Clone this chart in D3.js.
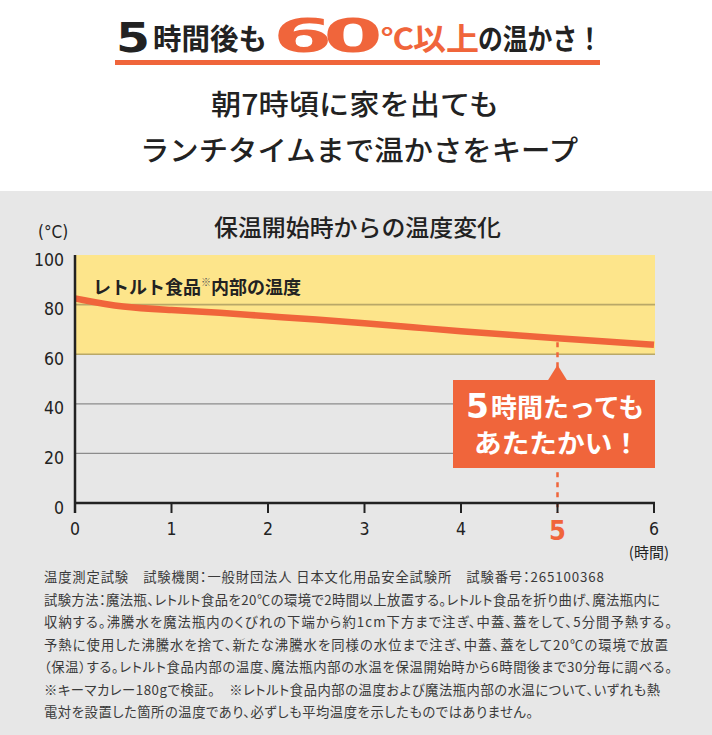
<!DOCTYPE html>
<html><head><meta charset="utf-8">
<script src="https://cdn.jsdelivr.net/npm/d3@7/dist/d3.min.js"></script>
<style>
html,body{margin:0;padding:0;background:#fff;}
svg{display:block;}
text{font-family:"Noto Sans CJK JP","Noto Sans",sans-serif;}
</style></head>
<body>
<script>
// ---- data ----
const hours = [0, 0.5, 1, 1.5, 2, 2.5, 3, 3.5, 4, 4.5, 5, 5.5, 6];
const temps = [82.5, 78.7, 77.9, 76.7, 75.3, 74.0, 72.5, 70.9, 69.2, 67.8, 66.4, 65.1, 63.8];
const xTicks = [0, 1, 2, 3, 4, 5, 6];
const yTicks = [0, 20, 40, 60, 80, 100];
const highlightHour = 5;
const bandRange = [60, 100];
const titleParts = [
  {t: "5", x: 116, w: 34, size: 41, c: "dark", digit: true},
  {t: "時間後も", x: 153, w: 114, size: 29, c: "dark"},
  {t: "60", x: 273, w: 106, size: 46, c: "orange", digit: true, ls: -5},
  {t: "℃", x: 381, w: 33, size: 29, c: "orange"},
  {t: "以上", x: 413, w: 66, size: 31, c: "orange"},
  {t: "の温かさ！", x: 478, w: 124, size: 29, c: "dark"}
];
const subtitle = ["朝7時頃に家を出ても", "ランチタイムまで温かさをキープ"];
const chartTitle = "保温開始時からの温度変化";
const seriesLabel = ["レトルト食品", "※", "内部の温度"];
const callout = ["5", "時間たっても", "あたたかい！"];
const footnotes = [
  "温度測定試験　試験機関：一般財団法人 日本文化用品安全試験所　試験番号：265100368",
  "試験方法：魔法瓶、レトルト食品を20℃の環境で2時間以上放置する。レトルト食品を折り曲げ、魔法瓶内に",
  "収納する。沸騰水を魔法瓶内のくびれの下端から約1cm下方まで注ぎ、中蓋、蓋をして、5分間予熱する。",
  "予熱に使用した沸騰水を捨て、新たな沸騰水を同様の水位まで注ぎ、中蓋、蓋をして20℃の環境で放置",
  "（保温）する。レトルト食品内部の温度、魔法瓶内部の水温を保温開始時から6時間後まで30分毎に調べる。",
  "※キーマカレー180gで検証。　※レトルト食品内部の温度および魔法瓶内部の水温について、いずれも熱",
  "電対を設置した箇所の温度であり、必ずしも平均温度を示したものではありません。"
];
const footEnds = [604, 660, 672, 668, 672, 660, 533];

// ---- style ----
const W = 712, H = 735;
const ORANGE = "#f0653b", DARK = "#222", YELLOW = "#fde58b", GRAY = "#e7e7e7";
const NUM = '"Liberation Sans Narrow","DejaVu Sans Condensed",sans-serif';

const svg = d3.select("body").append("svg").attr("width", W).attr("height", H);
svg.append("rect").attr("width", W).attr("height", 191).attr("fill", "#fff");
svg.append("rect").attr("y", 191).attr("width", W).attr("height", H - 191).attr("fill", GRAY);

// fit a text's box horizontally into [left, left+w]
function fitX(t, left, w) {
  t.attr("x", 0);
  const b = t.node().getBBox();
  const s = w / b.width;
  t.attr("transform", `translate(${left - b.x * s},0) scale(${s},1)`);
}

// title
titleParts.forEach(p => {
  const t = svg.append("text").attr("x", p.x).attr("y", p.digit ? 52 : 49.5)
    .attr("font-size", p.size).attr("font-weight", 700)
    .attr("fill", p.c === "orange" ? ORANGE : DARK)
    .style("font-family", p.digit ? '"DejaVu Sans",sans-serif' : null)
    .style("letter-spacing", p.ls ? p.ls + "px" : null)
    .text(p.t);
  if (p.digit) fitX(t, p.x, p.w);
  else t.attr("textLength", p.w).attr("lengthAdjust", "spacingAndGlyphs");
});
svg.append("rect").attr("x", 115).attr("y", 60).attr("width", 485).attr("height", 5).attr("fill", ORANGE);

// subtitle
svg.append("text").attr("x", 355).attr("y", 115).attr("text-anchor", "middle")
  .attr("font-size", 28).attr("font-weight", 500).attr("fill", DARK)
  .attr("textLength", 288).attr("lengthAdjust", "spacingAndGlyphs").text(subtitle[0]);
svg.append("text").attr("x", 359).attr("y", 161).attr("text-anchor", "middle")
  .attr("font-size", 28).attr("font-weight", 500).attr("fill", DARK)
  .attr("textLength", 438).attr("lengthAdjust", "spacingAndGlyphs").text(subtitle[1]);

// chart title
svg.append("text").attr("x", 357.5).attr("y", 236).attr("text-anchor", "middle")
  .attr("font-size", 23).attr("font-weight", 500).attr("fill", DARK)
  .attr("textLength", 287).attr("lengthAdjust", "spacingAndGlyphs").text(chartTitle);

// scales
const x = d3.scaleLinear().domain([0, 6]).range([75, 654]);
const y = d3.scaleLinear().domain([0, 100]).range([503, 255]);
const gridRight = 655;

// unit label
svg.append("text").attr("x", 38).attr("y", 238).attr("font-size", 17)
  .attr("fill", DARK).style("font-family", NUM).text("(°C)");

// band
svg.append("rect").attr("x", x(0)).attr("y", y(bandRange[1]))
  .attr("width", gridRight - x(0)).attr("height", y(bandRange[0]) - y(bandRange[1]))
  .attr("fill", YELLOW);

// grid
yTicks.filter(v => v > 0 && v < 100).forEach(v => {
  svg.append("line").attr("x1", x(0)).attr("x2", gridRight)
    .attr("y1", y(v)).attr("y2", y(v))
    .attr("stroke", v >= bandRange[0] ? "#b9a868" : "#8c8c8c")
    .attr("stroke-width", v >= bandRange[0] ? 1.6 : 1.2);
});

// y labels
yTicks.forEach(v => {
  svg.append("text").attr("x", 64).attr("y", y(v) + 10.5).attr("text-anchor", "end")
    .attr("font-size", 17.5).attr("fill", DARK).style("font-family", NUM).text(v);
});

// series label
const sl = svg.append("text").attr("x", 93).attr("y", 294).attr("font-weight", 700).attr("fill", DARK);
sl.append("tspan").attr("font-size", 18).text(seriesLabel[0]);
sl.append("tspan").attr("font-size", 10).attr("dy", -8).attr("fill", "#555").text(seriesLabel[1]);
sl.append("tspan").attr("font-size", 18).attr("dy", 8).text(seriesLabel[2]);

// dashed marker
const t5 = temps[hours.indexOf(highlightHour)];
svg.append("line").attr("x1", x(highlightHour)).attr("x2", x(highlightHour))
  .attr("y1", y(t5) + 4).attr("y2", 513)
  .attr("stroke", ORANGE).attr("stroke-width", 2.5).attr("stroke-dasharray", "5,5");

// series line
const line = d3.line().x((d, i) => x(hours[i])).y(d => y(d)).curve(d3.curveBasis);
svg.append("path").datum(temps).attr("d", line)
  .attr("fill", "none").attr("stroke", ORANGE).attr("stroke-width", 6.5);

// axes
svg.append("line").attr("x1", x(0)).attr("x2", x(0)).attr("y1", y(100)).attr("y2", 513)
  .attr("stroke", DARK).attr("stroke-width", 2.5);
svg.append("line").attr("x1", x(0)).attr("x2", x(6) + 1).attr("y1", y(0)).attr("y2", y(0))
  .attr("stroke", DARK).attr("stroke-width", 2.5);
xTicks.forEach(v => {
  if (v > 0) svg.append("line").attr("x1", x(v)).attr("x2", x(v)).attr("y1", y(0)).attr("y2", 513)
    .attr("stroke", DARK).attr("stroke-width", 2);
  const hl = v === highlightHour;
  svg.append("text").attr("x", x(v)).attr("y", hl ? 540 : 535).attr("text-anchor", "middle")
    .attr("font-size", hl ? 27 : 17.5).attr("font-weight", hl ? 700 : 400)
    .attr("fill", hl ? ORANGE : DARK).style("font-family", NUM).text(v);
});
svg.append("text").attr("x", 669).attr("y", 558).attr("text-anchor", "end")
  .attr("font-size", 15).attr("fill", DARK).text("(時間)");

// callout
const cx = x(highlightHour);
svg.append("rect").attr("x", 453).attr("y", 380).attr("width", 202).attr("height", 88).attr("fill", ORANGE);
svg.append("path").attr("d", `M${cx - 10},381 L${cx},365 L${cx + 10},381 Z`).attr("fill", ORANGE);
const c1 = svg.append("text").attr("x", 466).attr("y", 418).attr("font-weight", 700).attr("fill", "#fff");
c1.append("tspan").attr("font-size", 33).style("font-family", '"DejaVu Sans",sans-serif').text(callout[0]);
c1.append("tspan").attr("font-size", 26).attr("dx", 2).attr("dy", -1).text(callout[1]);
svg.append("text").attr("x", 557).attr("y", 453).attr("text-anchor", "middle")
  .attr("font-size", 26).attr("font-weight", 700).attr("fill", "#fff")
  .attr("textLength", 166).attr("lengthAdjust", "spacingAndGlyphs").text(callout[2]);

// footnotes
footnotes.forEach((s, i) => {
  const t = svg.append("text").attr("x", 44).attr("y", 582 + i * 22.5)
    .attr("font-size", 13.3).attr("fill", "#3a3a3a")
    .style("font-feature-settings", '"palt"').text(s);
  t.attr("textLength", footEnds[i] - 44).attr("lengthAdjust", "spacing");
});
</script>
</body></html>
